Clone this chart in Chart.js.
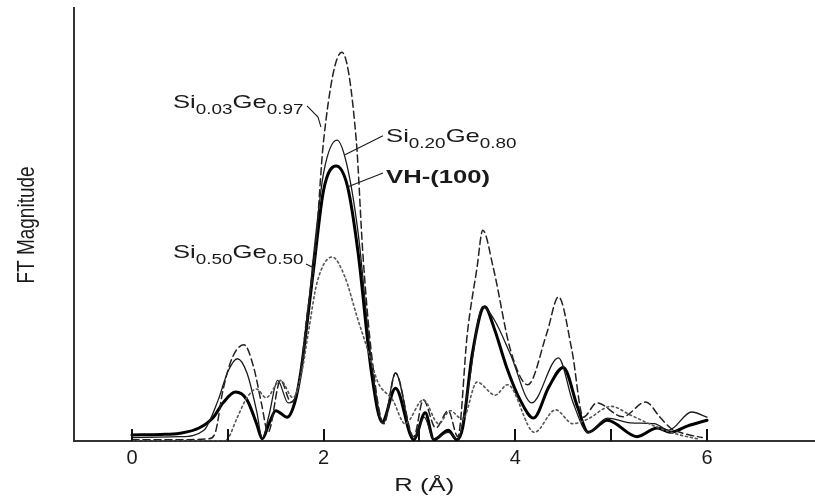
<!DOCTYPE html>
<html>
<head>
<meta charset="utf-8">
<script src="https://cdn.jsdelivr.net/npm/chart.js@4.4.1/dist/chart.umd.min.js"></script>
<style>
    html, body { margin: 0; padding: 0; background: #fff; }
    #wrap { position: relative; width: 815px; height: 499px; }
</style>
</head>
<body>
<div id="wrap"><canvas id="ftChart"></canvas></div>
<script>
// R axis (Å) and FT magnitude (arb. units) for each sample
const rVH = [0, 0.3, 0.5, 0.7, 0.85, 0.95, 1.08, 1.2, 1.3, 1.36, 1.43, 1.5, 1.62, 1.7, 1.76, 1.89, 2.0, 2.13, 2.25, 2.36, 2.5, 2.61, 2.75, 2.94, 3.06, 3.15, 3.3, 3.39, 3.45, 3.55, 3.68, 3.78, 3.91, 4.05, 4.19, 4.35, 4.5, 4.65, 4.76, 4.96, 5.27, 5.48, 5.62, 5.8, 6.0];
const ftVH = [1.4, 1.5, 1.8, 3, 5.5, 8.8, 11.3, 9.5, 4, 0.5, 4, 7, 5.5, 9, 15.7, 38.8, 58, 63.5, 58.7, 43.4, 15.7, 4.4, 12.2, 0.3, 6.5, 0.3, 2.5, 0.3, 3, 20, 31, 26, 17, 9.5, 5.3, 12.5, 17, 7.8, 2, 4.8, 1, 3, 2, 3.5, 4.8];

const rSi20 = [0, 0.5, 0.75, 0.9, 1.0, 1.1, 1.2, 1.3, 1.36, 1.43, 1.52, 1.63, 1.72, 1.8, 1.9, 2.0, 2.14, 2.24, 2.36, 2.5, 2.62, 2.75, 2.94, 3.05, 3.15, 3.3, 3.4, 3.5, 3.66, 3.78, 3.95, 4.17, 4.45, 4.6, 4.76, 4.96, 5.2, 5.45, 5.6, 5.84, 6.0];
const ftSi20 = [0.8, 1, 2.5, 9.5, 16, 19, 15.7, 7, 0.5, 6, 14, 8.8, 11, 22, 44, 62, 69.5, 64, 48, 18, 4, 15.7, 0.4, 5.5, 0.4, 2, 0.4, 11, 31, 28, 20, 8.8, 19.2, 9, 2, 5.3, 4.2, 4, 2.5, 6.7, 5.5];

const rSi03 = [0, 0.5, 0.8, 0.87, 0.95, 1.05, 1.17, 1.27, 1.35, 1.42, 1.55, 1.66, 1.75, 1.82, 1.91, 2.0, 2.19, 2.34, 2.41, 2.5, 2.63, 2.75, 2.94, 3.04, 3.17, 3.3, 3.4, 3.5, 3.6, 3.66, 3.77, 3.95, 4.13, 4.33, 4.45, 4.59, 4.71, 4.85, 5.12, 5.36, 5.51, 5.62, 5.8, 5.95];
const ftSi03 = [0.3, 0.3, 0.5, 2, 11.8, 19.4, 22.2, 17, 8.8, 2, 14, 9, 14, 28, 43, 69.5, 89.8, 69.5, 43, 20, 4, 15.7, 1, 9.5, 3, 7, 1, 25, 40, 48.7, 40, 21, 13, 25, 33.3, 21, 5.5, 8.8, 5.6, 9, 5.5, 3, 1.5, 0.8];

const rSi50 = [0, 0.95, 1.0, 1.1, 1.2, 1.3, 1.4, 1.55, 1.68, 1.77, 1.84, 1.93, 2.09, 2.22, 2.35, 2.46, 2.57, 2.72, 2.85, 3.04, 3.2, 3.32, 3.45, 3.6, 3.79, 3.92, 4.2, 4.42, 4.6, 4.75, 5.0, 5.2, 5.5, 5.7, 5.9];
const ftSi50 = [0, 0, 0.5, 5.5, 10, 12, 10, 14, 10, 15.7, 25, 36.5, 42.5, 38, 28.6, 21, 13.4, 9.5, 4, 9.5, 4, 7, 5, 13.6, 10.6, 13, 2, 7.2, 4, 5, 8, 6, 3, 1.5, 0.5];

const xTicks = [0, 1, 2, 3, 4, 5, 6];

const FONT = "'Liberation Sans', Arial, Helvetica, sans-serif";
const STRETCH = 1.35;   // the type in this figure is set wide

// curve labels: text runs (sub = subscript), anchor at baseline-left, leader polyline
const curveLabels = [
    { parts: [['Si'], ['0.03', true], ['Ge'], ['0.97', true]], at: [0.428, 76.9],
      leader: [[1.826, 77.4], [1.941, 74.8], [1.972, 72.5]] },
    { parts: [['Si'], ['0.20', true], ['Ge'], ['0.80', true]], at: [2.651, 69.1],
      leader: [[2.223, 66.1], [2.619, 70.5]] },
    { parts: [['VH-(100)']], bold: true, at: [2.651, 59.6],
      leader: [[2.254, 58.7], [2.619, 61.9]] },
    { parts: [['Si'], ['0.50', true], ['Ge'], ['0.50', true]], at: [0.428, 42.3],
      leader: [[1.816, 40.9], [1.878, 40.2], [1.899, 42.5]] }
];

const toPoints = (rs, vs) => rs.map((r, i) => ({ x: r, y: vs[i] }));

function drawRuns(ctx, parts, x, y, bold) {
    ctx.save();
    ctx.translate(x, y);
    ctx.scale(STRETCH, 1);
    let cx = 0;
    parts.forEach(([txt, sub]) => {
        ctx.font = (bold ? 'bold ' : '') + (sub ? '14px ' : '19px ') + FONT;
        ctx.fillText(txt, cx, sub ? 6 : 0);
        cx += ctx.measureText(txt).width;
    });
    ctx.restore();
}

const decor = {
    id: 'decor',
    afterDraw(chart) {
        const { ctx, chartArea, scales: { x, y } } = chart;
        ctx.save();

        // tick marks point up into the plot
        ctx.strokeStyle = '#111';
        ctx.lineWidth = 2;
        xTicks.forEach(v => {
            const px = Math.round(x.getPixelForValue(v));
            ctx.beginPath();
            ctx.moveTo(px, chartArea.bottom);
            ctx.lineTo(px, chartArea.bottom - 12);
            ctx.stroke();
        });

        ctx.fillStyle = '#1a1a1a';
        ctx.textBaseline = 'alphabetic';

        // x title
        ctx.save();
        ctx.font = '19px ' + FONT;
        ctx.textAlign = 'center';
        ctx.translate(x.getPixelForValue(3.05), chartArea.bottom + 50);
        ctx.scale(STRETCH, 1);
        ctx.fillText('R (Å)', 0, 0);
        ctx.restore();

        // y title
        ctx.save();
        ctx.font = '19px ' + FONT;
        ctx.textAlign = 'center';
        ctx.translate(34, 225);
        ctx.rotate(-Math.PI / 2);
        ctx.scale(1, 1.25);
        ctx.fillText('FT Magnitude', 0, 0);
        ctx.restore();

        // curve labels with leaders
        ctx.textAlign = 'left';
        ctx.strokeStyle = '#1a1a1a';
        ctx.lineWidth = 1.1;
        curveLabels.forEach(lab => {
            drawRuns(ctx, lab.parts, x.getPixelForValue(lab.at[0]), y.getPixelForValue(lab.at[1]), lab.bold);
            ctx.beginPath();
            lab.leader.forEach(([r, v], i) => {
                const px = x.getPixelForValue(r), py = y.getPixelForValue(v);
                if (i === 0) ctx.moveTo(px, py); else ctx.lineTo(px, py);
            });
            ctx.stroke();
        });

        ctx.restore();
    }
};

const lineBase = { pointRadius: 0, fill: false, cubicInterpolationMode: 'monotone', borderCapStyle: 'round' };

new Chart(document.getElementById('ftChart'), {
    type: 'line',
    data: {
        datasets: [
            { ...lineBase, label: 'Si0.50Ge0.50', data: toPoints(rSi50, ftSi50),
              borderColor: '#555', borderWidth: 1.6, borderDash: [2, 3] },
            { ...lineBase, label: 'Si0.03Ge0.97', data: toPoints(rSi03, ftSi03),
              borderColor: '#222', borderWidth: 1.5, borderDash: [7, 4] },
            { ...lineBase, label: 'Si0.20Ge0.80', data: toPoints(rSi20, ftSi20),
              borderColor: '#1a1a1a', borderWidth: 1.3 },
            { ...lineBase, label: 'VH-(100)', data: toPoints(rVH, ftVH),
              borderColor: '#000', borderWidth: 3 }
        ]
    },
    options: {
        responsive: true,
        maintainAspectRatio: false,
        animation: false,
        devicePixelRatio: 1,
        layout: { padding: { left: 74, top: 8, right: 0, bottom: 24 } },
        plugins: { legend: { display: false }, tooltip: { enabled: false } },
        scales: {
            x: {
                type: 'linear',
                min: -0.605,
                max: 7.127,
                afterBuildTicks: scale => { scale.ticks = xTicks.map(v => ({ value: v })); },
                ticks: {
                    autoSkip: false,
                    maxRotation: 0,
                    padding: 5,
                    color: '#1a1a1a',
                    font: { family: FONT, size: 20 },
                    callback: v => (v % 2 === 0 ? String(v) : '')
                },
                grid: { drawOnChartArea: false, drawTicks: false },
                border: { display: true, color: '#333', width: 2 }
            },
            y: {
                min: 0,
                max: 100,
                ticks: { display: false },
                grid: { drawOnChartArea: false, drawTicks: false },
                border: { display: true, color: '#333', width: 2 }
            }
        }
    },
    plugins: [decor]
});
</script>
</body>
</html>
